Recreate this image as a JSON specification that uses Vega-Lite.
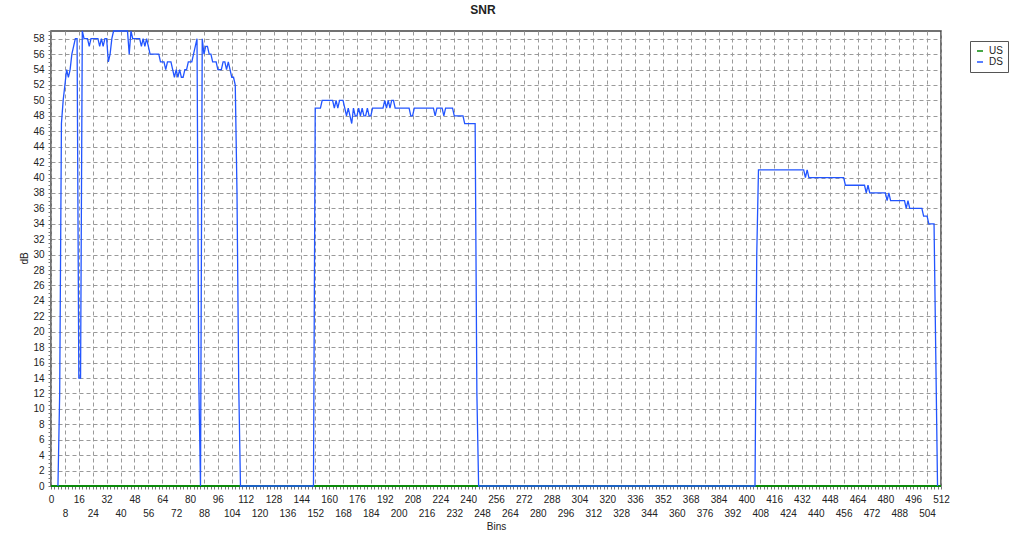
{
  "$schema": "https://vega.github.io/schema/vega-lite/v6.json",
  "width": 890,
  "height": 455,
  "autosize": {"type": "none"},
  "padding": {"left": 51, "top": 31, "right": 83, "bottom": 56},
  "background": "white",
  "title": {"text": "SNR", "fontSize": 12, "fontWeight": "bold", "font": "Liberation Sans", "color": "#222", "anchor": "middle", "dx": -13, "offset": 11},
  "config": {
    "font": "Liberation Sans",
    "view": {"stroke": "#444", "strokeWidth": 1.5},
    "axis": {"domain": false, "gridDash": [4, 3], "gridColor": "#9a9a9a", "gridOpacity": 1, "gridWidth": 1, "labelFont": "Liberation Sans", "labelFontSize": 10, "labelColor": "#222", "titleFont": "Liberation Sans", "titleFontSize": 10, "titleFontWeight": "normal", "titleColor": "#222", "tickColor": "#777"}
  },
  "datasets": {
    "us": [
      {"bin": 0, "dB": 0, "series": "US"},
      {"bin": 512, "dB": 0, "series": "US"}
    ],
    "ds": [
      {"bin":4,"dB":0,"series":"DS"},{"bin":5,"dB":12,"series":"DS"},{"bin":6,"dB":47,"series":"DS"},{"bin":7,"dB":50,"series":"DS"},{"bin":8,"dB":52,"series":"DS"},{"bin":9,"dB":54,"series":"DS"},{"bin":10,"dB":53,"series":"DS"},{"bin":11,"dB":54,"series":"DS"},{"bin":12,"dB":56,"series":"DS"},{"bin":13,"dB":57,"series":"DS"},{"bin":14,"dB":58,"series":"DS"},{"bin":15,"dB":58,"series":"DS"},{"bin":16,"dB":14,"series":"DS"},{"bin":17,"dB":14,"series":"DS"},{"bin":18,"dB":59,"series":"DS"},{"bin":19,"dB":58,"series":"DS"},{"bin":20,"dB":58,"series":"DS"},{"bin":21,"dB":58,"series":"DS"},{"bin":22,"dB":57,"series":"DS"},{"bin":23,"dB":58,"series":"DS"},{"bin":24,"dB":58,"series":"DS"},{"bin":25,"dB":58,"series":"DS"},{"bin":26,"dB":58,"series":"DS"},{"bin":27,"dB":58,"series":"DS"},{"bin":28,"dB":57,"series":"DS"},{"bin":29,"dB":58,"series":"DS"},{"bin":30,"dB":57,"series":"DS"},{"bin":31,"dB":58,"series":"DS"},{"bin":32,"dB":58,"series":"DS"},{"bin":33,"dB":55,"series":"DS"},{"bin":34,"dB":56,"series":"DS"},{"bin":35,"dB":58,"series":"DS"},{"bin":36,"dB":59,"series":"DS"},{"bin":37,"dB":59,"series":"DS"},{"bin":38,"dB":59,"series":"DS"},{"bin":39,"dB":59,"series":"DS"},{"bin":40,"dB":59,"series":"DS"},{"bin":41,"dB":59,"series":"DS"},{"bin":42,"dB":59,"series":"DS"},{"bin":43,"dB":59,"series":"DS"},{"bin":44,"dB":59,"series":"DS"},{"bin":45,"dB":56,"series":"DS"},{"bin":46,"dB":59,"series":"DS"},{"bin":47,"dB":58,"series":"DS"},{"bin":48,"dB":58,"series":"DS"},{"bin":49,"dB":58,"series":"DS"},{"bin":50,"dB":58,"series":"DS"},{"bin":51,"dB":58,"series":"DS"},{"bin":52,"dB":57,"series":"DS"},{"bin":53,"dB":58,"series":"DS"},{"bin":54,"dB":57,"series":"DS"},{"bin":55,"dB":58,"series":"DS"},{"bin":56,"dB":57,"series":"DS"},{"bin":57,"dB":56,"series":"DS"},{"bin":58,"dB":56,"series":"DS"},{"bin":59,"dB":56,"series":"DS"},{"bin":60,"dB":56,"series":"DS"},{"bin":61,"dB":56,"series":"DS"},{"bin":62,"dB":56,"series":"DS"},{"bin":63,"dB":55,"series":"DS"},{"bin":64,"dB":55,"series":"DS"},{"bin":65,"dB":55,"series":"DS"},{"bin":66,"dB":54,"series":"DS"},{"bin":67,"dB":55,"series":"DS"},{"bin":68,"dB":55,"series":"DS"},{"bin":69,"dB":55,"series":"DS"},{"bin":70,"dB":54,"series":"DS"},{"bin":71,"dB":53,"series":"DS"},{"bin":72,"dB":54,"series":"DS"},{"bin":73,"dB":53,"series":"DS"},{"bin":74,"dB":54,"series":"DS"},{"bin":75,"dB":53,"series":"DS"},{"bin":76,"dB":53,"series":"DS"},{"bin":77,"dB":54,"series":"DS"},{"bin":78,"dB":54,"series":"DS"},{"bin":79,"dB":55,"series":"DS"},{"bin":80,"dB":55,"series":"DS"},{"bin":81,"dB":55,"series":"DS"},{"bin":82,"dB":56,"series":"DS"},{"bin":83,"dB":57,"series":"DS"},{"bin":84,"dB":58,"series":"DS"},{"bin":85,"dB":14,"series":"DS"},{"bin":86,"dB":0,"series":"DS"},{"bin":87,"dB":58,"series":"DS"},{"bin":88,"dB":56,"series":"DS"},{"bin":89,"dB":57,"series":"DS"},{"bin":90,"dB":57,"series":"DS"},{"bin":91,"dB":56,"series":"DS"},{"bin":92,"dB":56,"series":"DS"},{"bin":93,"dB":55,"series":"DS"},{"bin":94,"dB":55,"series":"DS"},{"bin":95,"dB":55,"series":"DS"},{"bin":96,"dB":54,"series":"DS"},{"bin":97,"dB":54,"series":"DS"},{"bin":98,"dB":54,"series":"DS"},{"bin":99,"dB":55,"series":"DS"},{"bin":100,"dB":55,"series":"DS"},{"bin":101,"dB":54,"series":"DS"},{"bin":102,"dB":55,"series":"DS"},{"bin":103,"dB":54,"series":"DS"},{"bin":104,"dB":53,"series":"DS"},{"bin":105,"dB":53,"series":"DS"},{"bin":106,"dB":52,"series":"DS"},{"bin":107,"dB":38,"series":"DS"},{"bin":108,"dB":13,"series":"DS"},{"bin":109,"dB":0,"series":"DS"},
      {"bin":151,"dB":0,"series":"DS"},{"bin":152,"dB":49,"series":"DS"},{"bin":153,"dB":49,"series":"DS"},{"bin":154,"dB":49,"series":"DS"},{"bin":155,"dB":49,"series":"DS"},{"bin":156,"dB":50,"series":"DS"},{"bin":157,"dB":50,"series":"DS"},{"bin":158,"dB":50,"series":"DS"},{"bin":159,"dB":50,"series":"DS"},{"bin":160,"dB":50,"series":"DS"},{"bin":161,"dB":50,"series":"DS"},{"bin":162,"dB":50,"series":"DS"},{"bin":163,"dB":49,"series":"DS"},{"bin":164,"dB":50,"series":"DS"},{"bin":165,"dB":49,"series":"DS"},{"bin":166,"dB":50,"series":"DS"},{"bin":167,"dB":50,"series":"DS"},{"bin":168,"dB":50,"series":"DS"},{"bin":169,"dB":49,"series":"DS"},{"bin":170,"dB":48,"series":"DS"},{"bin":171,"dB":49,"series":"DS"},{"bin":172,"dB":48,"series":"DS"},{"bin":173,"dB":47,"series":"DS"},{"bin":174,"dB":49,"series":"DS"},{"bin":175,"dB":48,"series":"DS"},{"bin":176,"dB":48,"series":"DS"},{"bin":177,"dB":49,"series":"DS"},{"bin":178,"dB":48,"series":"DS"},{"bin":179,"dB":49,"series":"DS"},{"bin":180,"dB":48,"series":"DS"},{"bin":181,"dB":48,"series":"DS"},{"bin":182,"dB":49,"series":"DS"},{"bin":183,"dB":48,"series":"DS"},{"bin":184,"dB":48,"series":"DS"},{"bin":185,"dB":49,"series":"DS"},{"bin":186,"dB":49,"series":"DS"},{"bin":187,"dB":49,"series":"DS"},{"bin":188,"dB":49,"series":"DS"},{"bin":189,"dB":49,"series":"DS"},{"bin":190,"dB":49,"series":"DS"},{"bin":191,"dB":49,"series":"DS"},{"bin":192,"dB":50,"series":"DS"},{"bin":193,"dB":49,"series":"DS"},{"bin":194,"dB":50,"series":"DS"},{"bin":195,"dB":49,"series":"DS"},{"bin":196,"dB":50,"series":"DS"},{"bin":197,"dB":50,"series":"DS"},{"bin":198,"dB":49,"series":"DS"},{"bin":199,"dB":49,"series":"DS"},{"bin":200,"dB":49,"series":"DS"},{"bin":201,"dB":49,"series":"DS"},{"bin":202,"dB":49,"series":"DS"},{"bin":203,"dB":49,"series":"DS"},{"bin":204,"dB":49,"series":"DS"},{"bin":205,"dB":49,"series":"DS"},{"bin":206,"dB":49,"series":"DS"},{"bin":207,"dB":48,"series":"DS"},{"bin":208,"dB":48,"series":"DS"},{"bin":209,"dB":49,"series":"DS"},{"bin":210,"dB":49,"series":"DS"},{"bin":211,"dB":49,"series":"DS"},{"bin":212,"dB":49,"series":"DS"},{"bin":213,"dB":49,"series":"DS"},{"bin":214,"dB":49,"series":"DS"},{"bin":215,"dB":49,"series":"DS"},{"bin":216,"dB":49,"series":"DS"},{"bin":217,"dB":49,"series":"DS"},{"bin":218,"dB":49,"series":"DS"},{"bin":219,"dB":49,"series":"DS"},{"bin":220,"dB":49,"series":"DS"},{"bin":221,"dB":48,"series":"DS"},{"bin":222,"dB":49,"series":"DS"},{"bin":223,"dB":49,"series":"DS"},{"bin":224,"dB":49,"series":"DS"},{"bin":225,"dB":49,"series":"DS"},{"bin":226,"dB":48,"series":"DS"},{"bin":227,"dB":49,"series":"DS"},{"bin":228,"dB":49,"series":"DS"},{"bin":229,"dB":49,"series":"DS"},{"bin":230,"dB":49,"series":"DS"},{"bin":231,"dB":49,"series":"DS"},{"bin":232,"dB":48,"series":"DS"},{"bin":233,"dB":48,"series":"DS"},{"bin":234,"dB":48,"series":"DS"},{"bin":235,"dB":48,"series":"DS"},{"bin":236,"dB":48,"series":"DS"},{"bin":237,"dB":48,"series":"DS"},{"bin":238,"dB":47,"series":"DS"},{"bin":239,"dB":47,"series":"DS"},{"bin":240,"dB":47,"series":"DS"},{"bin":241,"dB":47,"series":"DS"},{"bin":242,"dB":47,"series":"DS"},{"bin":243,"dB":47,"series":"DS"},{"bin":244,"dB":47,"series":"DS"},{"bin":245,"dB":12,"series":"DS"},{"bin":246,"dB":0,"series":"DS"},
      {"bin":405,"dB":0,"series":"DS"},{"bin":406,"dB":30,"series":"DS"},{"bin":407,"dB":41,"series":"DS"},{"bin":408,"dB":41,"series":"DS"},{"bin":410,"dB":41,"series":"DS"},{"bin":412,"dB":41,"series":"DS"},{"bin":414,"dB":41,"series":"DS"},{"bin":416,"dB":41,"series":"DS"},{"bin":418,"dB":41,"series":"DS"},{"bin":420,"dB":41,"series":"DS"},{"bin":422,"dB":41,"series":"DS"},{"bin":424,"dB":41,"series":"DS"},{"bin":426,"dB":41,"series":"DS"},{"bin":428,"dB":41,"series":"DS"},{"bin":430,"dB":41,"series":"DS"},{"bin":432,"dB":41,"series":"DS"},{"bin":433,"dB":41,"series":"DS"},{"bin":434,"dB":40,"series":"DS"},{"bin":435,"dB":41,"series":"DS"},{"bin":436,"dB":40,"series":"DS"},{"bin":438,"dB":40,"series":"DS"},{"bin":440,"dB":40,"series":"DS"},{"bin":442,"dB":40,"series":"DS"},{"bin":444,"dB":40,"series":"DS"},{"bin":446,"dB":40,"series":"DS"},{"bin":448,"dB":40,"series":"DS"},{"bin":450,"dB":40,"series":"DS"},{"bin":452,"dB":40,"series":"DS"},{"bin":454,"dB":40,"series":"DS"},{"bin":456,"dB":40,"series":"DS"},{"bin":457,"dB":39,"series":"DS"},{"bin":460,"dB":39,"series":"DS"},{"bin":464,"dB":39,"series":"DS"},{"bin":468,"dB":39,"series":"DS"},{"bin":469,"dB":38,"series":"DS"},{"bin":470,"dB":39,"series":"DS"},{"bin":471,"dB":38,"series":"DS"},{"bin":474,"dB":38,"series":"DS"},{"bin":477,"dB":38,"series":"DS"},{"bin":480,"dB":38,"series":"DS"},{"bin":481,"dB":37,"series":"DS"},{"bin":482,"dB":38,"series":"DS"},{"bin":483,"dB":37,"series":"DS"},{"bin":486,"dB":37,"series":"DS"},{"bin":489,"dB":37,"series":"DS"},{"bin":491,"dB":37,"series":"DS"},{"bin":492,"dB":36,"series":"DS"},{"bin":493,"dB":37,"series":"DS"},{"bin":494,"dB":36,"series":"DS"},{"bin":497,"dB":36,"series":"DS"},{"bin":501,"dB":36,"series":"DS"},{"bin":502,"dB":35,"series":"DS"},{"bin":503,"dB":35,"series":"DS"},{"bin":504,"dB":35,"series":"DS"},{"bin":505,"dB":34,"series":"DS"},{"bin":506,"dB":34,"series":"DS"},{"bin":507,"dB":34,"series":"DS"},{"bin":508,"dB":34,"series":"DS"},{"bin":509,"dB":17,"series":"DS"},{"bin":510,"dB":0,"series":"DS"}
    ]
  },
  "resolve": {"axis": {"x": "independent", "y": "independent"}},
  "layer": [
    {
      "data": {"name": "us"},
      "mark": {"type": "line", "strokeWidth": 2},
      "encoding": {
        "x": {"field": "bin", "type": "quantitative", "scale": {"domain": [0, 512], "nice": false, "zero": false},
          "axis": {"orient": "bottom", "values": [0,8,16,24,32,40,48,56,64,72,80,88,96,104,112,120,128,136,144,152,160,168,176,184,192,200,208,216,224,232,240,248,256,264,272,280,288,296,304,312,320,328,336,344,352,360,368,376,384,392,400,408,416,424,432,440,448,456,464,472,480,488,496,504,512], "grid": true, "labels": false, "ticks": false, "title": "Bins", "titleY": 40, "titleBaseline": "middle"}},
        "y": {"field": "dB", "type": "quantitative", "scale": {"domain": [0, 59], "nice": false},
          "axis": {"orient": "left", "values": [0,2,4,6,8,10,12,14,16,18,20,22,24,26,28,30,32,34,36,38,40,42,44,46,48,50,52,54,56,58], "grid": true, "ticks": false, "labelPadding": 7, "title": "dB", "titleX": -27, "titleY": 227, "titleBaseline": "middle"}},
        "color": {"field": "series", "type": "nominal", "scale": {"domain": ["US", "DS"], "range": ["#0a8a0a", "#2255ff"]},
          "legend": {"orient": "none", "legendX": 919, "legendY": 10, "title": null, "fillColor": "white", "strokeColor": "#555", "padding": 5, "symbolType": "stroke", "symbolSize": 36, "symbolStrokeWidth": 1.5, "labelFontSize": 10, "labelFont": "Liberation Sans", "labelColor": "#222", "rowPadding": 1, "symbolOffset": 0, "labelOffset": 4}}
      }
    },
    {
      "data": {"name": "ds"},
      "mark": {"type": "line", "strokeWidth": 1.3},
      "encoding": {
        "x": {"field": "bin", "type": "quantitative",
          "axis": {"orient": "bottom", "values": [0,16,32,48,64,80,96,112,128,144,160,176,192,208,224,240,256,272,288,304,320,336,352,368,384,400,416,432,448,464,480,496,512], "grid": false, "ticks": false, "labelPadding": 13, "labelBaseline": "middle", "labelFlush": false, "labelOverlap": false, "title": null}},
        "y": {"field": "dB", "type": "quantitative",
          "axis": {"orient": "left", "tickCount": 118, "grid": false, "labels": false, "ticks": true, "tickSize": 3, "title": null}},
        "color": {"field": "series", "type": "nominal",
          "legend": {"orient": "none", "legendX": 919, "legendY": 10, "title": null, "fillColor": "white", "strokeColor": "#555", "padding": 5, "symbolType": "stroke", "symbolSize": 36, "symbolStrokeWidth": 1.5, "labelFontSize": 10, "labelFont": "Liberation Sans", "labelColor": "#222", "rowPadding": 1, "symbolOffset": 0, "labelOffset": 4}}
      }
    },
    {
      "data": {"name": "us"},
      "mark": {"type": "line", "strokeOpacity": 0},
      "encoding": {
        "x": {"field": "bin", "type": "quantitative",
          "axis": {"orient": "bottom", "values": [8,24,40,56,72,88,104,120,136,152,168,184,200,216,232,248,264,280,296,312,328,344,360,376,392,408,424,440,456,472,488,504], "grid": false, "ticks": false, "labelPadding": 27, "labelBaseline": "middle", "labelFlush": false, "labelOverlap": false, "title": null}},
        "y": {"field": "dB", "type": "quantitative", "axis": null}
      }
    },
    {
      "data": {"name": "us"},
      "mark": {"type": "line", "strokeOpacity": 0},
      "encoding": {
        "x": {"field": "bin", "type": "quantitative",
          "axis": {"orient": "bottom", "tickCount": 256, "grid": false, "labels": false, "ticks": true, "tickSize": 3, "title": null}},
        "y": {"field": "dB", "type": "quantitative", "axis": null}
      }
    }
  ]
}
